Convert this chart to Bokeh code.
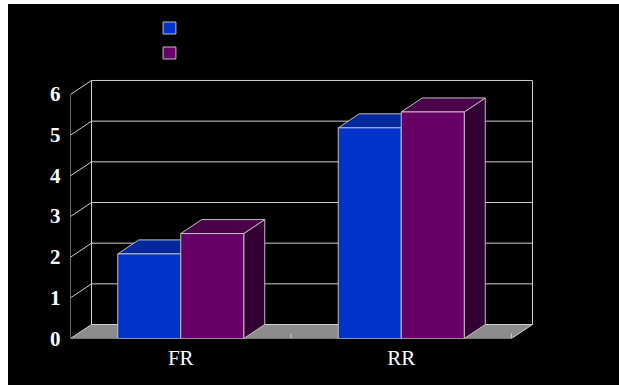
from bokeh.plotting import figure
from bokeh.models import Range1d, FixedTicker, Legend, LegendItem, Spacer
from bokeh.layouts import column, row
from bokeh.core.properties import value
from bokeh.embed import file_html
from bokeh.resources import INLINE

# ---- data ----
categories = ["FR", "RR"]
series_a = [2.08, 5.18]
series_b = [2.58, 5.57]
y_ticks = [0, 1, 2, 3, 4, 5, 6]

# ---- layout constants (pixels) ----
W, H = 611, 381
ML, MB = 62, 47
PX_X = 220.5      # pixels per category
PX_Y = 40.67      # pixels per value unit
DEPTH_X_PX, DEPTH_Y_PX = 21, 14
BAR_PX = 63

n = len(categories)
ymax = max(y_ticks)
x_end = (W - ML) / PX_X
y_end = (H - MB) / PX_Y
DX = DEPTH_X_PX / PX_X
DY = DEPTH_Y_PX / PX_Y
BW = BAR_PX / PX_X

LINE = "#cfcfcf"
EDGE = "#c0c0c0"
FLOOR = "#8c8c8c"

p = figure(width=W, height=H, title=None,
           x_range=Range1d(0, x_end), y_range=Range1d(0, y_end),
           output_backend="svg", toolbar_location=None,
           min_border_left=ML, min_border_bottom=MB,
           min_border_top=0, min_border_right=0,
           background_fill_color="black", border_fill_color="black",
           outline_line_color=None)
p.styles = {"background-color": "black"}
p.xgrid.visible = False
p.ygrid.visible = False

# floor
p.patch([0, n, n + DX, DX], [0, 0, DY, DY], fill_color=FLOOR, line_color=None)

# walls / grid
x0, y0, x1, y1 = [], [], [], []
for k in y_ticks:
    x0.append(DX); y0.append(k + DY); x1.append(n + DX); y1.append(k + DY)
    x0.append(0); y0.append(k); x1.append(DX); y1.append(k + DY)
for (a, b, c, d) in [(0, 0, 0, ymax), (DX, DY, DX, ymax + DY),
                     (n + DX, DY, n + DX, ymax + DY),
                     (0, 0, n, 0), (n, 0, n + DX, DY)]:
    x0.append(a); y0.append(b); x1.append(c); y1.append(d)
for i in range(1, n + 1):
    x0.append(i); y0.append(0); x1.append(i); y1.append(5 / PX_Y)
p.segment(x0, y0, x1, y1, line_color=LINE, line_width=1)

# bars
styles = [
    (series_a, "#0033cc", "#00299e", "#001a66"),
    (series_b, "#660066", "#4a004a", "#330033"),
]
front_renderers = []
for s, (vals, c_front, c_top, c_side) in enumerate(styles):
    lefts = [i + 0.5 - BW + s * BW for i in range(n)]
    rights = [l + BW for l in lefts]
    side_xs = [[r, r + DX, r + DX, r] for r in rights]
    side_ys = [[0, DY, v + DY, v] for v in vals]
    top_xs = [[l, r, r + DX, l + DX] for l, r in zip(lefts, rights)]
    top_ys = [[v, v, v + DY, v + DY] for v in vals]
    p.patches(side_xs, side_ys, fill_color=c_side, line_color=EDGE, line_width=1)
    p.patches(top_xs, top_ys, fill_color=c_top, line_color=EDGE, line_width=1)
    fr = p.quad(left=lefts, right=rights, bottom=[0] * n, top=vals,
                fill_color=c_front, line_color=EDGE, line_width=1)
    front_renderers.append(fr)

# axes
for ax in p.axis:
    ax.axis_line_color = None
    ax.major_tick_line_color = None
    ax.minor_tick_line_color = None
    ax.major_label_text_color = "white"
    ax.major_label_text_font = "Liberation Serif"

yax = p.yaxis[0]
yax.ticker = FixedTicker(ticks=y_ticks)
yax.major_label_standoff = 4
yax.major_label_text_font_style = "bold"
yax.major_label_text_font_size = "21px"

xax = p.xaxis[0]
xax.ticker = FixedTicker(ticks=[i + 0.5 for i in range(n)])
xax.major_label_overrides = {i + 0.5: c for i, c in enumerate(categories)}
xax.major_label_standoff = 1
xax.major_label_text_font_size = "21px"

legend = Legend(items=[LegendItem(label=value(""), renderers=[r]) for r in front_renderers],
                location=(91, 278), glyph_width=16, glyph_height=15,
                label_width=0, label_height=15, label_standoff=0,
                spacing=10, padding=0, margin=0,
                border_line_color=None, background_fill_alpha=0,
                label_text_font_size="1px")
p.add_layout(legend, "center")

layout = column(Spacer(width=619, height=4),
                row(Spacer(width=8, height=H), p))

open("out.html", "w").write(file_html(layout, INLINE))
